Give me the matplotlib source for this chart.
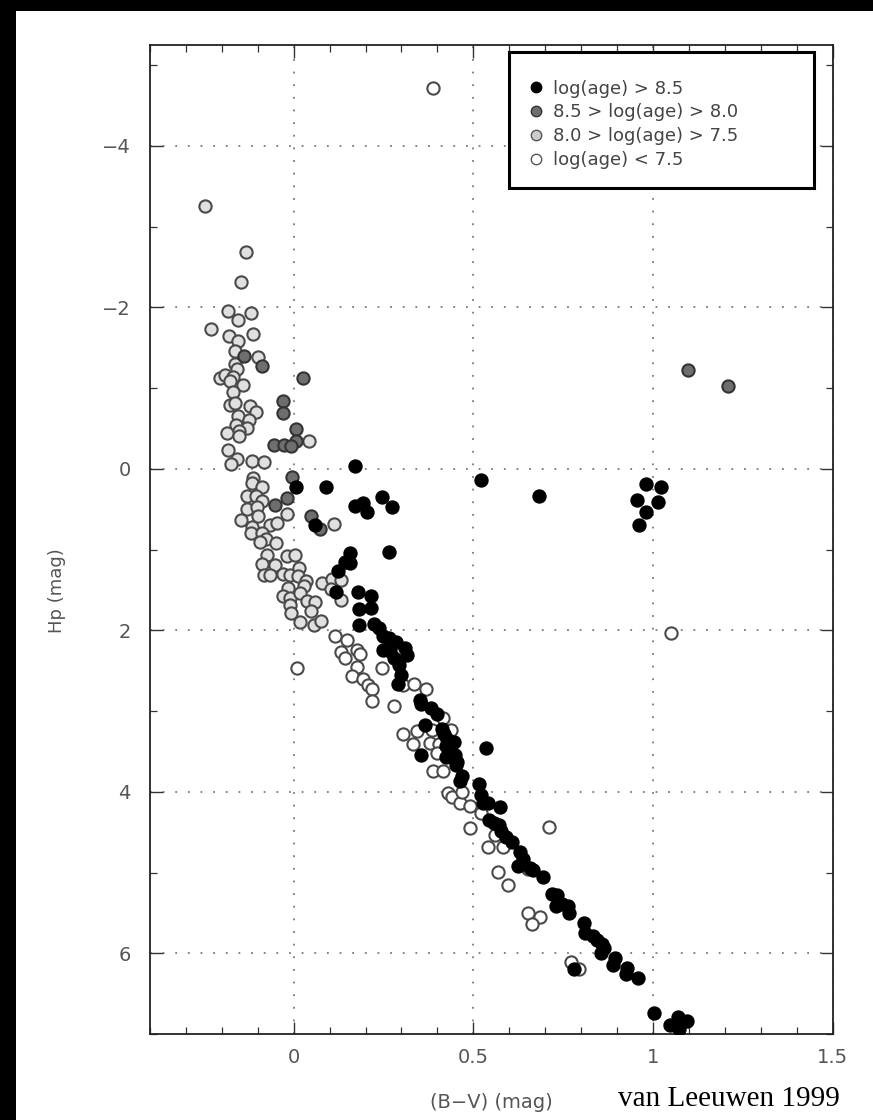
import matplotlib
matplotlib.use("Agg")
import matplotlib.pyplot as plt
from matplotlib.patches import Rectangle
from matplotlib.lines import Line2D
from matplotlib.ticker import MultipleLocator, FixedLocator

# ---------------- data (B-V, Hp) ----------------
old_bv = [0.006, 0.089, 0.170, 0.247, 0.273, 0.170, 0.194, 0.204, 0.059,
          0.157, 0.142, 0.157, 0.124, 0.117, 0.179, 0.214, 0.182, 0.216, 0.183, 0.223,
          0.237, 0.249, 0.266, 0.286, 0.311, 0.314, 0.249, 0.268, 0.279, 0.293, 0.298,
          0.290, 0.265,
          0.351, 0.355, 0.381, 0.400, 0.365, 0.414, 0.418, 0.427, 0.446, 0.423, 0.353,
          0.423, 0.448, 0.455, 0.451, 0.469, 0.464, 0.534, 0.515, 0.520, 0.528, 0.540,
          0.573, 0.543, 0.557, 0.571, 0.576, 0.592, 0.609, 0.631, 0.639, 0.625, 0.659,
          0.666, 0.694,
          0.719, 0.733, 0.731, 0.747, 0.763, 0.766, 0.809, 0.812, 0.833, 0.844, 0.858,
          0.863, 0.854, 0.893, 0.889, 0.928, 0.925, 0.957, 0.781, 1.004, 1.048, 1.070,
          1.095, 1.072,
          0.520, 0.682, 0.980, 1.021, 0.955, 1.015, 0.980, 0.960]
old_hp = [0.23, 0.23, -0.03, 0.35, 0.47, 0.46, 0.42, 0.53, 0.70,
          1.04, 1.15, 1.16, 1.27, 1.53, 1.53, 1.58, 1.73, 1.72, 1.94, 1.92,
          1.97, 2.07, 2.10, 2.14, 2.22, 2.31, 2.24, 2.26, 2.34, 2.43, 2.55,
          2.67, 1.03,
          2.86, 2.91, 2.96, 3.04, 3.17, 3.22, 3.29, 3.35, 3.38, 3.43, 3.55,
          3.57, 3.54, 3.63, 3.67, 3.80, 3.87, 3.46, 3.90, 4.04, 4.14, 4.14,
          4.19, 4.35, 4.39, 4.41, 4.48, 4.56, 4.62, 4.75, 4.83, 4.92, 4.95,
          4.97, 5.06,
          5.26, 5.28, 5.42, 5.39, 5.41, 5.50, 5.63, 5.75, 5.79, 5.83, 5.88,
          5.94, 6.00, 6.06, 6.15, 6.18, 6.26, 6.31, 6.20, 6.74, 6.89, 6.79,
          6.84, 6.94,
          0.14, 0.34, 0.19, 0.22, 0.39, 0.41, 0.53, 0.70]

mid_bv = [-0.138, -0.087, 0.026, -0.029, -0.029, 0.005, 0.006, -0.055, -0.027,
          -0.008, -0.006, -0.053, -0.019, 0.049, 0.073, 1.098, 1.210]
mid_hp = [-1.40, -1.27, -1.13, -0.84, -0.69, -0.49, -0.35, -0.29, -0.30,
          -0.28, 0.10, 0.45, 0.36, 0.59, 0.75, -1.23, -1.03]

young_bv = [-0.247, -0.134, -0.147, -0.184, -0.119, -0.154, -0.229, -0.180, -0.112,
            -0.155, -0.163, -0.100, -0.164, -0.158, -0.204, -0.190, -0.170, -0.177,
            -0.142, -0.169, -0.178, -0.163, -0.123, -0.106, -0.154, -0.124, -0.161,
            -0.130, -0.152, -0.186, -0.152, 0.043, -0.182, -0.158, -0.174, -0.116,
            -0.083, -0.112, -0.115,
            -0.087, -0.129, -0.106, -0.087, -0.129, -0.103, -0.147, -0.099, -0.115,
            -0.066, -0.047, -0.020, -0.120, -0.089, -0.078, -0.095, -0.050, 0.112,
            -0.075, -0.087, -0.053, -0.083, -0.067, -0.019, 0.003, -0.031, -0.010,
            0.015, 0.012, 0.033, 0.029, -0.016, -0.029, -0.010, 0.018, 0.038, 0.059,
            -0.010, -0.008, 0.047, 0.018, 0.057, 0.077, 0.080, 0.106, 0.131, 0.103,
            0.131]
young_hp = [-3.25, -2.68, -2.31, -1.95, -1.93, -1.84, -1.73, -1.64, -1.67,
            -1.58, -1.46, -1.38, -1.30, -1.24, -1.13, -1.16, -1.14, -1.09,
            -1.04, -0.95, -0.79, -0.82, -0.78, -0.70, -0.66, -0.61, -0.54,
            -0.51, -0.47, -0.45, -0.41, -0.35, -0.23, -0.12, -0.06, -0.10,
            -0.09, 0.11, 0.17,
            0.23, 0.34, 0.34, 0.40, 0.50, 0.47, 0.63, 0.58, 0.72,
            0.70, 0.67, 0.56, 0.79, 0.80, 0.87, 0.90, 0.92, 0.68,
            1.07, 1.18, 1.19, 1.32, 1.31, 1.08, 1.07, 1.30, 1.31,
            1.23, 1.33, 1.39, 1.45, 1.47, 1.57, 1.60, 1.54, 1.64, 1.65,
            1.69, 1.78, 1.76, 1.90, 1.94, 1.89, 1.41, 1.37, 1.38, 1.49,
            1.63]

vyoung_bv = [0.010, 0.114, 0.147, 0.131, 0.144, 0.175, 0.184, 0.177, 0.163, 0.194,
             0.208, 0.219, 0.245, 0.305, 0.335, 0.369,
             0.219, 0.279, 0.305, 0.344, 0.332, 0.379, 0.384, 0.404, 0.400, 0.388,
             0.415, 0.437, 0.416, 0.430, 0.441, 0.462, 0.469, 0.492, 0.520, 0.490,
             0.559, 0.540, 0.583, 0.568, 0.596, 0.710,
             0.772, 0.793, 0.652, 0.685, 0.664, 0.651, 0.389, 1.049]
vyoung_hp = [2.47, 2.07, 2.12, 2.27, 2.34, 2.24, 2.29, 2.46, 2.57, 2.60,
             2.68, 2.73, 2.47, 2.68, 2.67, 2.73,
             2.88, 2.94, 3.28, 3.25, 3.41, 3.39, 3.23, 3.41, 3.52, 3.74,
             3.74, 3.23, 3.08, 4.02, 4.06, 4.14, 4.00, 4.18, 4.26, 4.45,
             4.54, 4.68, 4.68, 4.99, 5.15, 4.43,
             6.11, 6.19, 5.50, 5.55, 5.64, 4.96, -4.72, 2.03]

labels = ["log(age) > 8.5", "8.5 > log(age) > 8.0",
          "8.0 > log(age) > 7.5", "log(age) < 7.5"]
x_ticks = [0, 0.5, 1, 1.5]
x_ticklabels = ["0", "0.5", "1", "1.5"]
y_ticks = [-4, -2, 0, 2, 4, 6]
y_ticklabels = ["\u22124", "\u22122", "0", "2", "4", "6"]

# ---------------- figure ----------------
W, H = 873, 1120
fig = plt.figure(figsize=(W / 100, H / 100), dpi=100)
fig.patch.set_facecolor("white")

# black scan borders
fig.patches.append(Rectangle((0, 0), 16 / W, 1, transform=fig.transFigure,
                             facecolor="black", edgecolor="none", zorder=0))
fig.patches.append(Rectangle((0, 1 - 11 / H), 1, 11 / H, transform=fig.transFigure,
                             facecolor="black", edgecolor="none", zorder=0))

left, right, top, bottom = 150 / W, 832.6 / W, 1 - 45 / H, 1 - 1034 / H
ax = fig.add_axes([left, bottom, right - left, top - bottom])
ax.set_xlim(-0.4, 1.5)
ax.set_ylim(7, -5.25)

txtc = "#555555"
ax.xaxis.set_major_locator(FixedLocator(x_ticks))
ax.xaxis.set_minor_locator(MultipleLocator(0.1))
ax.yaxis.set_major_locator(FixedLocator(y_ticks))
ax.yaxis.set_minor_locator(MultipleLocator(1))
ax.set_xticklabels(x_ticklabels)
ax.set_yticklabels(y_ticklabels)
ax.tick_params(which="both", direction="in", top=True, right=True, color="#333333")
ax.tick_params(which="major", length=9, width=1.0, labelsize=14, labelcolor=txtc)
ax.tick_params(which="minor", length=5, width=0.9)
ax.tick_params(axis="x", which="major", pad=10)
ax.tick_params(axis="y", which="major", pad=14)
for s in ax.spines.values():
    s.set_linewidth(1.3)
    s.set_color("#222222")

ax.grid(True, which="major", color="#7a7a7a", linewidth=1.3,
        linestyle=(0, (1, 6)))
ax.set_axisbelow(True)

msize = 78
mlw = 1.5
ax.scatter(vyoung_bv, vyoung_hp, s=msize, facecolor="white", edgecolor="#4a4a4a",
           linewidth=mlw, zorder=3)
ax.scatter(young_bv, young_hp, s=msize, facecolor="#e0e0e0", edgecolor="#4a4a4a",
           linewidth=mlw, zorder=3)
ax.scatter(mid_bv, mid_hp, s=msize, facecolor="#6e6e6e", edgecolor="#333333",
           linewidth=mlw, zorder=4)
ax.scatter(old_bv, old_hp, s=msize, facecolor="black", edgecolor="black",
           linewidth=mlw, zorder=5)

# legend frame
ax.add_patch(Rectangle((0.526, 0.855), 0.447, 0.138, transform=ax.transAxes,
                       facecolor="white", edgecolor="black", linewidth=2.2, zorder=6))
handles = [
    Line2D([], [], ls="none", marker="o", ms=7.5, mfc="black", mec="black", mew=1),
    Line2D([], [], ls="none", marker="o", ms=7.5, mfc="#6e6e6e", mec="#333333", mew=1),
    Line2D([], [], ls="none", marker="o", ms=7.5, mfc="#cccccc", mec="#555555", mew=1),
    Line2D([], [], ls="none", marker="o", ms=7.5, mfc="white", mec="#555555", mew=1),
]
leg = ax.legend(handles, labels, loc="upper left", bbox_to_anchor=(0.552, 0.965),
                frameon=False, fontsize=13, handlelength=1.0, handletextpad=0.45,
                labelspacing=0.32, borderpad=0, borderaxespad=0)
for t in leg.get_texts():
    t.set_color("#444444")
leg.set_zorder(7)

fig.text(57 / W, 1 - 591 / H, "Hp (mag)", rotation=90, ha="center", va="center",
         fontsize=13, color=txtc)
fig.text(491 / W, 1 - 1102 / H, "(B\u2212V) (mag)", ha="center", va="center",
         fontsize=14, color=txtc)
fig.text(729 / W, 1 - 1099 / H, "van Leeuwen 1999", ha="center", va="center",
         fontsize=21, color="black", family="Liberation Serif")

fig.savefig("out.png", dpi=100)
